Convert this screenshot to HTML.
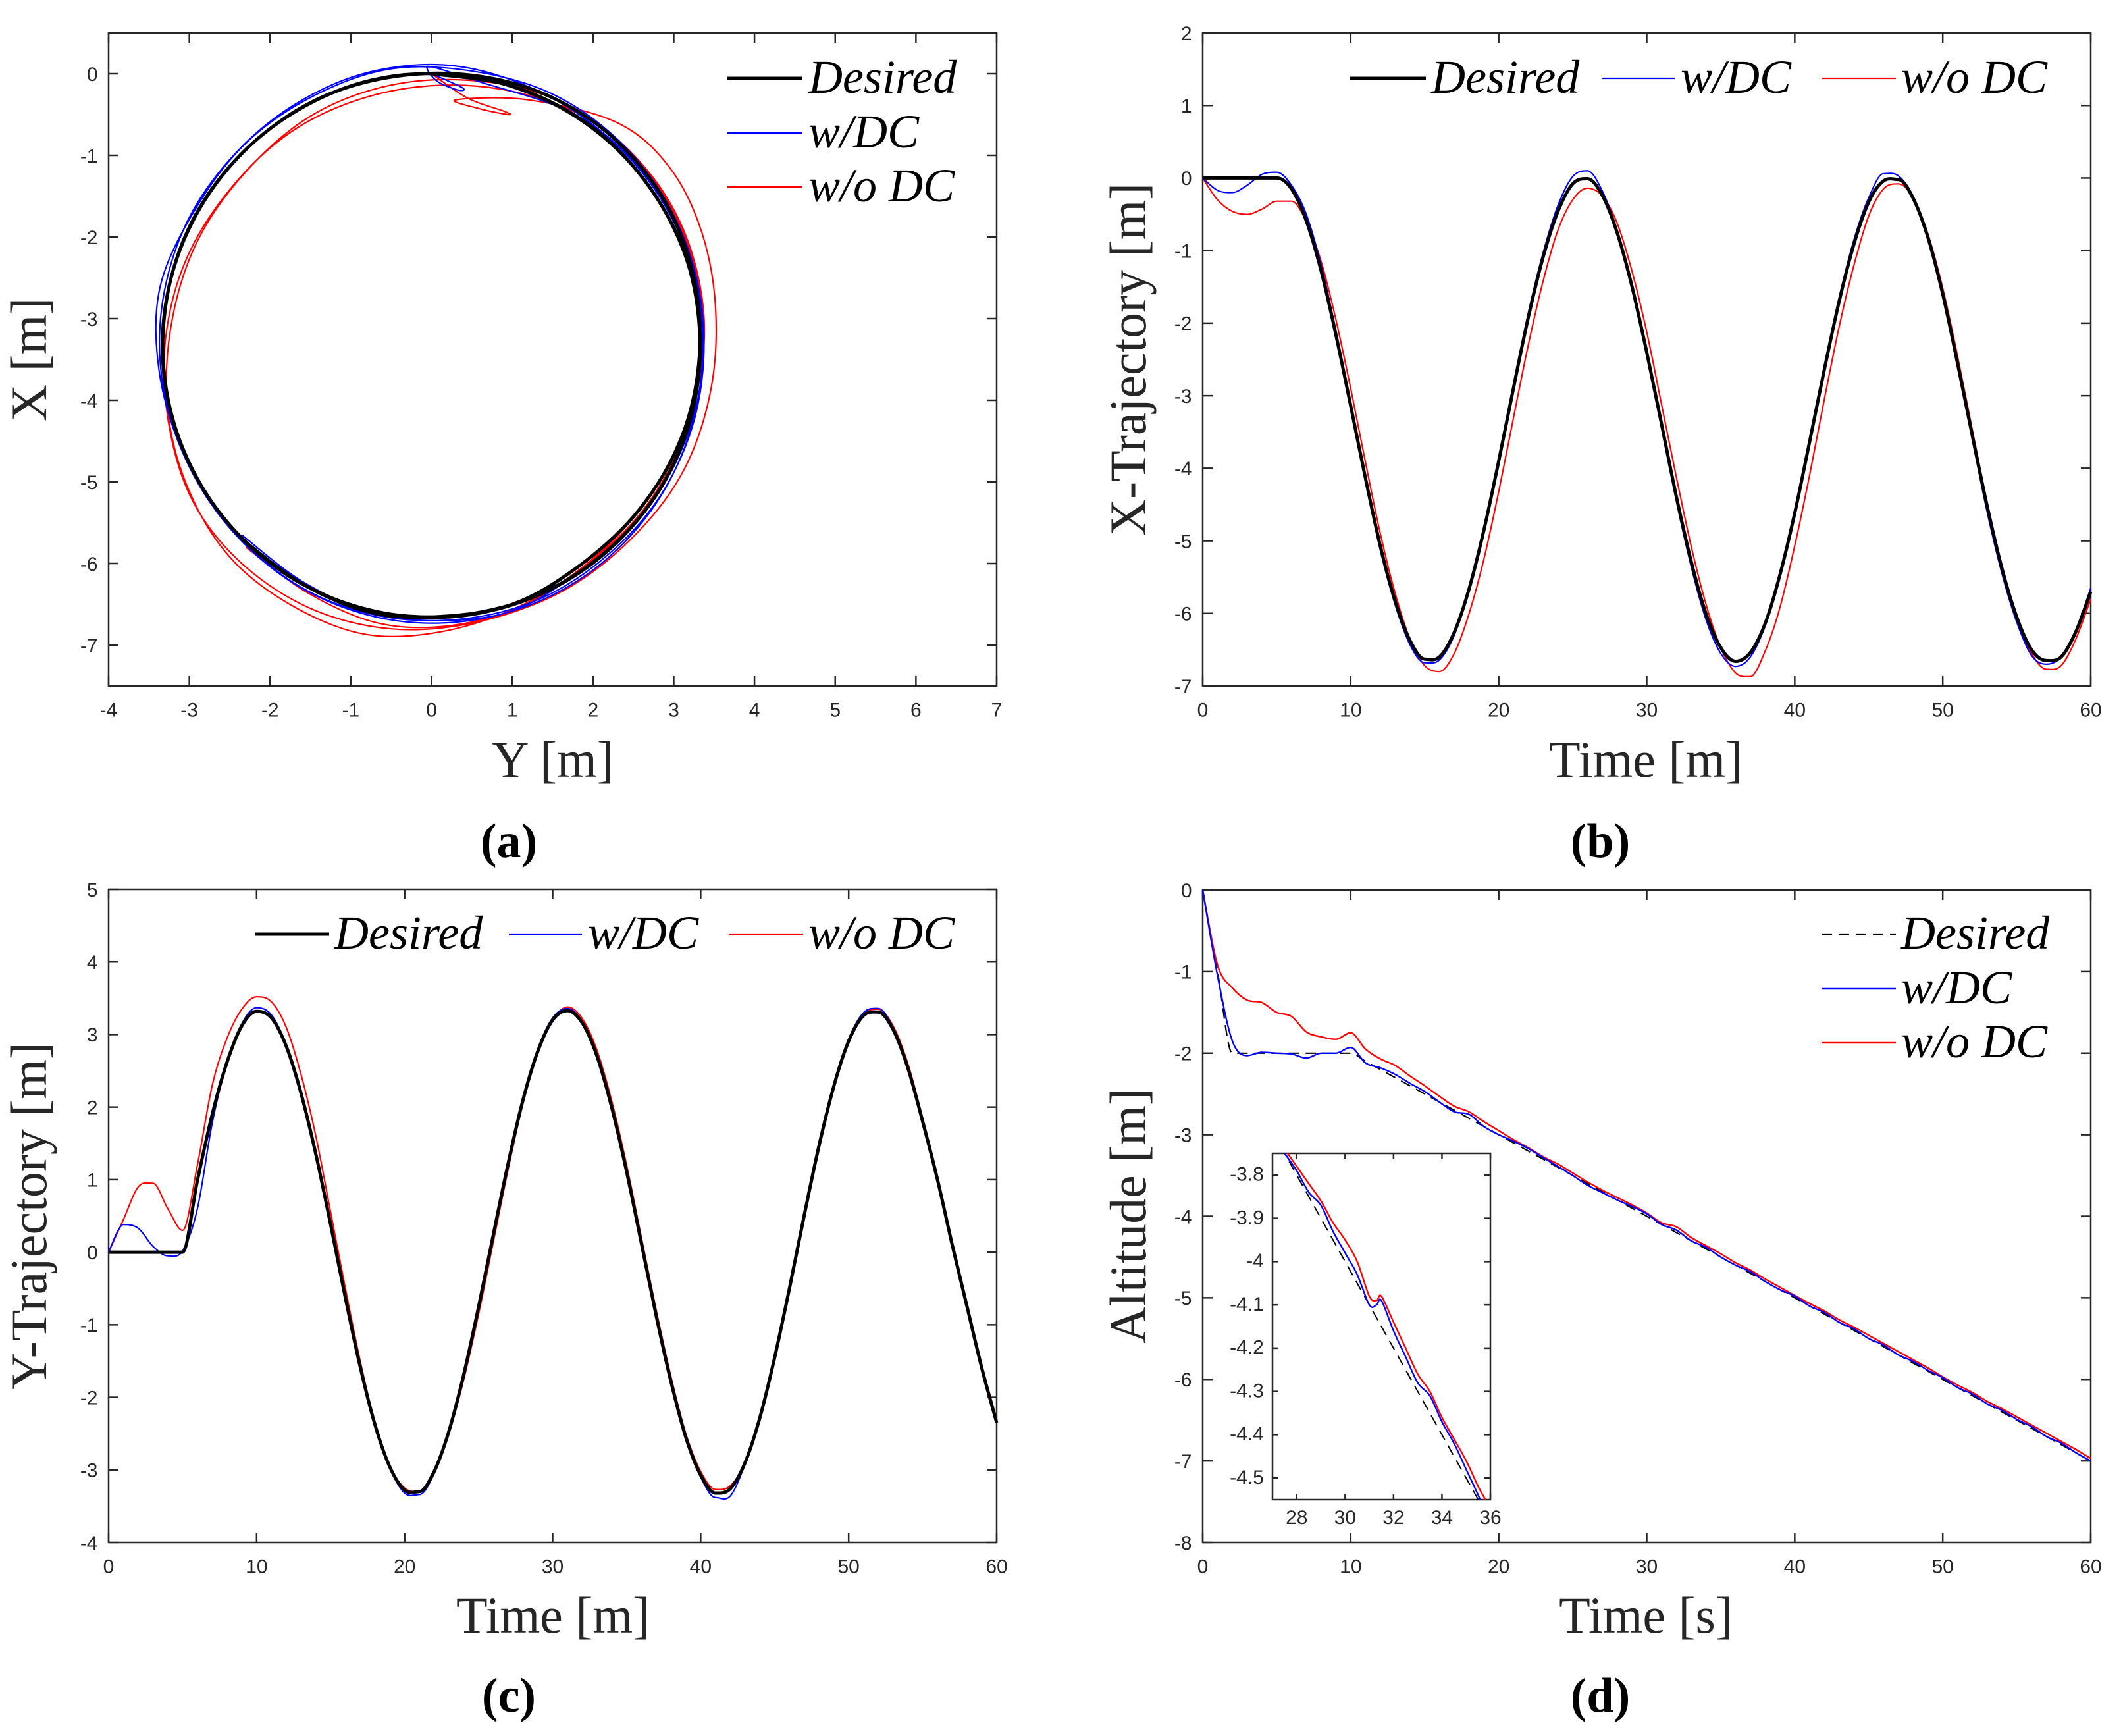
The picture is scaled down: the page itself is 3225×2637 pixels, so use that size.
<!DOCTYPE html>
<html><head><meta charset="utf-8">
<style>
html,body{margin:0;padding:0;background:#fff;}
svg{display:block;}
.tk{font-family:"Liberation Sans",sans-serif;font-size:30px;fill:#262626;}
.al{font-family:"Liberation Serif",serif;font-size:78px;fill:#262626;}
.lg{font-family:"Liberation Serif",serif;font-style:italic;font-size:72px;fill:#000;}
.cap{font-family:"Liberation Serif",serif;font-weight:bold;font-size:74px;fill:#000;}
</style></head>
<body>
<svg id="fig" width="3225" height="2637" viewBox="0 0 3225 2637" xmlns="http://www.w3.org/2000/svg"></svg>
<script>
// ---- data ----
const timeS = [0,1,2,3,4,5,6,7,8,9,10,11,12,13,14,15,16,17,18,19,20,21,22,23,24,25,26,27,28,29,30,31,32,33,34,35,36,37,38,39,40,41,42,43,44,45,46,47,48,49,50,51,52,53,54,55,56,57,58,59,60];
const xDesired = [0,0,0,0,0,0,-0.15,-0.59,-1.28,-2.16,-3.14,-4.14,-5.07,-5.83,-6.37,-6.63,-6.6,-6.26,-5.66,-4.85,-3.9,-2.89,-1.92,-1.09,-0.46,-0.08,-0.01,-0.24,-0.75,-1.49,-2.4,-3.39,-4.39,-5.28,-6.0,-6.47,-6.66,-6.54,-6.14,-5.47,-4.62,-3.64,-2.64,-1.7,-0.91,-0.33,-0.04,-0.02,-0.28,-0.82,-1.6,-2.55,-3.55,-4.52,-5.38,-6.05,-6.5,-6.65,-6.6,-6.25,-5.7];
const xWithDC = [0,-0.17,-0.2,-0.1,0.05,0.08,-0.1,-0.5,-1.2,-2.1,-3.12,-4.18,-5.13,-5.88,-6.43,-6.68,-6.64,-6.3,-5.66,-4.85,-3.86,-2.85,-1.86,-1.03,-0.38,0.02,0.1,-0.18,-0.72,-1.47,-2.4,-3.42,-4.45,-5.35,-6.08,-6.55,-6.73,-6.6,-6.17,-5.47,-4.6,-3.6,-2.6,-1.65,-0.85,-0.27,0.06,0.03,-0.25,-0.82,-1.62,-2.58,-3.6,-4.6,-5.45,-6.12,-6.58,-6.7,-6.6,-6.22,-5.65];
const xWithoutDC = [0,-0.3,-0.46,-0.5,-0.43,-0.32,-0.32,-0.6,-1.15,-1.95,-2.9,-3.92,-4.9,-5.72,-6.35,-6.72,-6.8,-6.55,-6.0,-5.25,-4.32,-3.3,-2.3,-1.42,-0.72,-0.3,-0.14,-0.25,-0.62,-1.28,-2.12,-3.12,-4.12,-5.07,-5.87,-6.47,-6.82,-6.87,-6.52,-5.92,-5.07,-4.1,-3.05,-2.05,-1.2,-0.52,-0.15,-0.08,-0.27,-0.77,-1.52,-2.45,-3.47,-4.47,-5.37,-6.07,-6.55,-6.77,-6.72,-6.35,-5.8];
const yDesired = [0,0,0,0,0,0,0.99,1.9,2.62,3.12,3.32,3.23,2.84,2.19,1.35,0.38,-0.63,-1.58,-2.38,-2.96,-3.28,-3.3,-3.02,-2.46,-1.68,-0.75,0.25,1.23,2.1,2.77,3.2,3.33,3.16,2.7,1.99,1.11,0.12,-0.88,-1.79,-2.55,-3.07,-3.32,-3.26,-2.9,-2.28,-1.45,-0.5,0.51,1.47,2.29,2.91,3.26,3.31,3.07,2.54,1.8,1.0,0.1,-0.75,-1.6,-2.35];
const yWithDC = [0,0.38,0.33,0.08,-0.05,0.02,0.6,1.78,2.62,3.15,3.37,3.27,2.86,2.2,1.35,0.37,-0.65,-1.6,-2.4,-2.98,-3.32,-3.34,-3.05,-2.48,-1.7,-0.77,0.25,1.25,2.12,2.8,3.23,3.36,3.18,2.72,2.0,1.1,0.1,-0.9,-1.82,-2.58,-3.1,-3.38,-3.36,-2.92,-2.3,-1.46,-0.5,0.52,1.5,2.32,2.94,3.3,3.36,3.1,2.57,1.8,1.0,0.12,-0.75,-1.6,-2.35];
const yWithoutDC = [0,0.45,0.9,0.95,0.6,0.3,1.2,2.3,2.95,3.35,3.52,3.45,3.1,2.45,1.6,0.55,-0.5,-1.5,-2.35,-2.95,-3.25,-3.3,-3.05,-2.5,-1.75,-0.85,0.15,1.15,2.05,2.75,3.2,3.38,3.22,2.78,2.08,1.2,0.2,-0.8,-1.72,-2.5,-3.02,-3.27,-3.22,-2.9,-2.3,-1.5,-0.55,0.45,1.42,2.26,2.9,3.28,3.35,3.12,2.6,1.85,1.05,0.15,-0.7,-1.55,-2.3];
const altTime = [0,1,2,3,4,5,6,7,8,9,10,11,12,13,14,15,16,17,18,19,20,21,22,23,24,25,26,27,28,29,30,31,32,33,34,35,36,37,38,39,40,41,42,43,44,45,46,47,48,49,50,51,52,53,54,55,56,57,58,59,60];
const altDesired = [0,-1,-2,-2,-2,-2,-2,-2,-2,-2,-2,-2.1,-2.2,-2.3,-2.4,-2.5,-2.6,-2.7,-2.8,-2.9,-3,-3.1,-3.2,-3.3,-3.4,-3.5,-3.6,-3.7,-3.8,-3.9,-4,-4.1,-4.2,-4.3,-4.4,-4.5,-4.6,-4.7,-4.8,-4.9,-5,-5.1,-5.2,-5.3,-5.4,-5.5,-5.6,-5.7,-5.8,-5.9,-6,-6.1,-6.2,-6.3,-6.4,-6.5,-6.6,-6.7,-6.8,-6.9,-7];
const altWithDC = [0,-1.05,-1.85,-2.03,-1.99,-2.0,-2.01,-2.06,-2.0,-2.0,-1.93,-2.12,-2.18,-2.26,-2.37,-2.47,-2.6,-2.72,-2.75,-2.9,-3.0,-3.08,-3.17,-3.28,-3.39,-3.5,-3.62,-3.71,-3.8,-3.88,-3.97,-4.1,-4.17,-4.3,-4.38,-4.5,-4.6,-4.68,-4.8,-4.9,-4.98,-5.1,-5.18,-5.3,-5.38,-5.5,-5.58,-5.7,-5.78,-5.89,-5.98,-6.1,-6.18,-6.3,-6.38,-6.49,-6.58,-6.7,-6.78,-6.9,-7.0];
const altWithoutDC = [0,-0.92,-1.2,-1.35,-1.38,-1.5,-1.55,-1.74,-1.8,-1.83,-1.75,-1.95,-2.07,-2.15,-2.28,-2.4,-2.53,-2.65,-2.72,-2.84,-2.95,-3.06,-3.16,-3.27,-3.36,-3.47,-3.58,-3.68,-3.77,-3.86,-3.96,-4.08,-4.13,-4.26,-4.36,-4.46,-4.57,-4.66,-4.77,-4.87,-4.97,-5.07,-5.16,-5.27,-5.36,-5.46,-5.56,-5.66,-5.76,-5.86,-5.97,-6.07,-6.16,-6.27,-6.36,-6.46,-6.56,-6.66,-6.76,-6.86,-6.97];
const insetTime = [27.5,28,28.5,29,29.5,30,30.5,31,31.3,31.5,32,32.5,33,33.5,34,34.5,35,35.5,35.8];
const insetWithDC = [-3.75,-3.79,-3.84,-3.87,-3.93,-3.98,-4.03,-4.1,-4.1,-4.09,-4.16,-4.22,-4.28,-4.31,-4.37,-4.42,-4.48,-4.54,-4.58];
const insetWithoutDC = [-3.74,-3.78,-3.82,-3.86,-3.91,-3.95,-4.0,-4.08,-4.09,-4.08,-4.14,-4.2,-4.26,-4.3,-4.36,-4.41,-4.46,-4.52,-4.55];
const insetDesiredT = [27,36];
const insetDesiredV = [-3.7,-4.6];
const ticksA_x = [-4,-3,-2,-1,0,1,2,3,4,5,6,7];
const ticksA_y = [0,-1,-2,-3,-4,-5,-6,-7];
const ticksT = [0,10,20,30,40,50,60];
const ticksB_y = [2,1,0,-1,-2,-3,-4,-5,-6,-7];
const ticksC_y = [5,4,3,2,1,0,-1,-2,-3,-4];
const ticksD_y = [0,-1,-2,-3,-4,-5,-6,-7,-8];
const ticksI_x = [28,30,32,34,36];
const ticksI_y = [-3.8,-3.9,-4,-4.1,-4.2,-4.3,-4.4,-4.5];

const NS = "http://www.w3.org/2000/svg";
const fig = document.getElementById('fig');
function mk(tag, attrs, parent){const e=document.createElementNS(NS,tag);for(const k in attrs)e.setAttribute(k,attrs[k]);(parent||fig).appendChild(e);return e;}
function axes(x0,x1,y0,y1,dx0,dx1,dy0,dy1){
  return {sx:v=>x0+(v-dx0)/(dx1-dx0)*(x1-x0), sy:v=>y1-(v-dy0)/(dy1-dy0)*(y1-y0), x0,x1,y0,y1};
}
function smoothPath(pts,mono){
  const n=pts.length;
  const tan=pts.map((p,i)=>{
    const p0=pts[Math.max(0,i-1)],p2=pts[Math.min(n-1,i+1)];
    let t=[(p2[0]-p0[0])/2,(p2[1]-p0[1])/2];
    if(mono && i>0 && i<n-1){
      const a=p[1]-p0[1], b=p2[1]-p[1];
      if(a*b<=0 || Math.abs(a)<1e-6 || Math.abs(b)<1e-6) t[1]=0;
    }
    return t;
  });
  let d='M'+pts[0][0].toFixed(1)+','+pts[0][1].toFixed(1);
  for(let i=0;i<n-1;i++){
    const p1=pts[i],p2=pts[i+1];
    const c1=[p1[0]+tan[i][0]/3,p1[1]+tan[i][1]/3];
    const c2=[p2[0]-tan[i+1][0]/3,p2[1]-tan[i+1][1]/3];
    d+='C'+c1[0].toFixed(1)+','+c1[1].toFixed(1)+' '+c2[0].toFixed(1)+','+c2[1].toFixed(1)+' '+p2[0].toFixed(1)+','+p2[1].toFixed(1);
  }
  return d;
}
function frame(ax,xt,yt,name,fs,tl){
  const g=mk('g',{});
  
  
  const r=mk('rect',{x:ax.x0,y:ax.y0,width:ax.x1-ax.x0,height:ax.y1-ax.y0,fill:'#fff',stroke:'#262626','stroke-width':2.5},g);
  
  
  xt.forEach(v=>{const x=ax.sx(v);
    mk('line',{x1:x,x2:x,y1:ax.y1,y2:ax.y1-tl,stroke:'#262626','stroke-width':2.5},g);
    mk('line',{x1:x,x2:x,y1:ax.y0,y2:ax.y0+tl,stroke:'#262626','stroke-width':2.5},g);
    const t=mk('text',{x:x,y:ax.y1+fs*1.55,'text-anchor':'middle',class:'tk','font-size':fs},g);t.textContent=String(v);
    
    
  });
  yt.forEach(v=>{const y=ax.sy(v);
    mk('line',{x1:ax.x0,x2:ax.x0+tl,y1:y,y2:y,stroke:'#262626','stroke-width':2.5},g);
    mk('line',{x1:ax.x1,x2:ax.x1-tl,y1:y,y2:y,stroke:'#262626','stroke-width':2.5},g);
    const t=mk('text',{x:ax.x0-fs*0.55,y:y+fs*0.36,'text-anchor':'end',class:'tk','font-size':fs},g);t.textContent=String(v);
    
    
  });
  return g;
}
function series(ax,xs,ys,color,w,name,dash,mono){
  const pts=xs.map((x,i)=>[ax.sx(x),ax.sy(ys[i])]);
  const p=mk('path',{d:smoothPath(pts,mono),fill:'none',stroke:color,'stroke-width':w,'stroke-linejoin':'round'});
  if(dash)p.setAttribute('stroke-dasharray',dash);
  
  
  return p;
}
function label(x,y,txt,name,rot){
  const t=mk('text',{x:x,y:y,'text-anchor':'middle',class:'al'});
  if(rot)t.setAttribute('transform','rotate(-90 '+x+' '+y+')');
  t.textContent=txt;
  
  
}
function caption(x,y,txt,name){
  const t=mk('text',{x:x,y:y,'text-anchor':'middle',class:'cap'});t.textContent=txt;
  
  
}
function legendEntry(lx1,lx2,tx,y,color,w,txt,name,dash){
  const g=mk('g',{});
  
  
  const l=mk('line',{x1:lx1,x2:lx2,y1:y,y2:y,stroke:color,'stroke-width':w},g);
  if(dash)l.setAttribute('stroke-dasharray',dash);
  const t=mk('text',{x:tx,y:y+22,class:'lg'},g);t.textContent=txt;
}
const BL='#000',BU='#0000ff',RD='#ff0000';

// ---- panel (a) ----
const axA=axes(165,1514,50,1042,-4,7,-7.5,0.5);
frame(axA,ticksA_x,ticksA_y,'panel-a',30,15);
series(axA,yWithoutDC,xWithoutDC,RD,2.2,'panel-a-wo-dc-line');
series(axA,yWithDC,xWithDC,BU,2.2,'panel-a-w-dc-line');
series(axA,yDesired.slice(5),xDesired.slice(5),BL,5,'panel-a-desired-line');
label(840,1180,'Y [m]','panel-a-x-axis-title');
label(70,546,'X [m]','panel-a-y-axis-title',true);
legendEntry(1105,1218,1228,119,BL,5,'Desired','panel-a-legend-desired');
legendEntry(1105,1218,1228,202,BU,2.2,'w/DC','panel-a-legend-w-dc');
legendEntry(1105,1218,1228,284,RD,2.2,'w/o DC','panel-a-legend-wo-dc');
caption(773,1302,'(a)','panel-a-caption');

// ---- panel (b) ----
const axB=axes(1827,3176,50,1042,0,60,-7,2);
frame(axB,ticksT,ticksB_y,'panel-b',30,15);
series(axB,timeS,xWithoutDC,RD,2.2,'panel-b-wo-dc-line',null,true);
series(axB,timeS,xWithDC,BU,2.2,'panel-b-w-dc-line',null,true);
series(axB,timeS,xDesired,BL,5,'panel-b-desired-line',null,true);
label(2500,1180,'Time [m]','panel-b-x-axis-title');
label(1740,546,'X-Trajectory [m]','panel-b-y-axis-title',true);
legendEntry(2051,2166,2174,119,BL,5,'Desired','panel-b-legend-desired');
legendEntry(2433,2544,2553,119,BU,2.2,'w/DC','panel-b-legend-w-dc');
legendEntry(2767,2880,2888,119,RD,2.2,'w/o DC','panel-b-legend-wo-dc');
caption(2431,1302,'(b)','panel-b-caption');

// ---- panel (c) ----
const axC=axes(165,1514,1351,2343,0,60,-4,5);
frame(axC,ticksT,ticksC_y,'panel-c',30,15);
series(axC,timeS,yWithoutDC,RD,2.2,'panel-c-wo-dc-line',null,true);
series(axC,timeS,yWithDC,BU,2.2,'panel-c-w-dc-line',null,true);
series(axC,timeS,yDesired,BL,5,'panel-c-desired-line',null,true);
label(840,2480,'Time [m]','panel-c-x-axis-title');
label(70,1847,'Y-Trajectory [m]','panel-c-y-axis-title',true);
legendEntry(387,500,508,1419,BL,5,'Desired','panel-c-legend-desired');
legendEntry(773,884,893,1419,BU,2.2,'w/DC','panel-c-legend-w-dc');
legendEntry(1107,1220,1228,1419,RD,2.2,'w/o DC','panel-c-legend-wo-dc');
caption(773,2600,'(c)','panel-c-caption');

// ---- panel (d) ----
const axD=axes(1827,3176,1352,2343,0,60,-8,0);
frame(axD,ticksT,ticksD_y,'panel-d',30,15);
series(axD,altTime,altDesired,BL,2.2,'panel-d-desired-line','16,10',true);
series(axD,altTime,altWithoutDC,RD,2.4,'panel-d-wo-dc-line',null,true);
series(axD,altTime,altWithDC,BU,2.4,'panel-d-w-dc-line',null,true);
label(2500,2480,'Time [s]','panel-d-x-axis-title');
label(1740,1847,'Altitude [m]','panel-d-y-axis-title',true);
legendEntry(2767,2880,2888,1419,BL,2.2,'Desired','panel-d-legend-desired','16,10');
legendEntry(2767,2880,2888,1502,BU,2.4,'w/DC','panel-d-legend-w-dc');
legendEntry(2767,2880,2888,1584,RD,2.4,'w/o DC','panel-d-legend-wo-dc');
caption(2431,2600,'(d)','panel-d-caption');

// inset
const axI=axes(1933,2264,1752,2278,27,36,-4.55,-3.75);
frame(axI,ticksI_x,ticksI_y,'inset',24,9);
const cp=mk('clipPath',{id:'clipI'});
mk('rect',{x:axI.x0,y:axI.y0,width:axI.x1-axI.x0,height:axI.y1-axI.y0},cp);
const pI1=series(axI,insetDesiredT,insetDesiredV,BL,2,'inset-desired-line','16,10');
const pI2=series(axI,insetTime,insetWithoutDC,RD,2.4,'inset-wo-dc-line');
const pI3=series(axI,insetTime,insetWithDC,BU,2.4,'inset-w-dc-line');
[pI1,pI2,pI3].forEach(p=>p.setAttribute('clip-path','url(#clipI)'));
</script>
</body></html>
